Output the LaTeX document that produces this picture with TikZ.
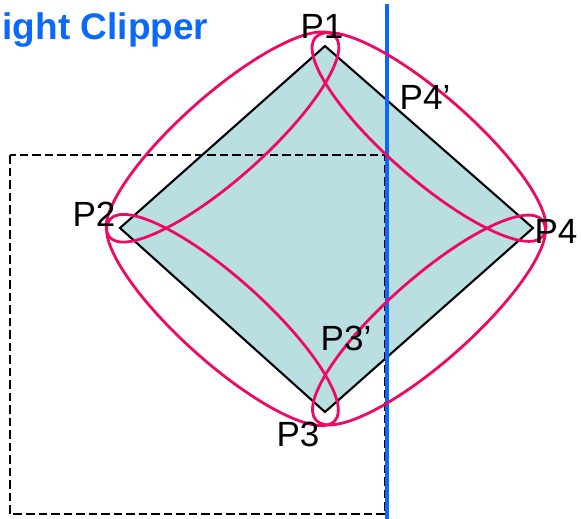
\documentclass[tikz,border=0pt]{standalone}
\usepackage{fontspec}
\setmainfont{Liberation Sans}
\begin{document}
\begin{tikzpicture}[x=1pt,y=1pt,
  lbl/.style={font=\fontsize{35}{35}\selectfont, inner sep=0pt, text=black},
  ttl/.style={font=\fontsize{37}{37}\selectfont\bfseries, inner sep=0pt, text=titleblue},
  leaf/.style={draw=leafpink, line width=2.8pt},
  poly/.style={draw=black, line width=2.1pt, fill=polyfill, line join=miter},
  clipline/.style={draw=titleblue, line width=4.2pt},
  window/.style={draw=black, line width=2.4pt, dash pattern=on 8.5pt off 4pt}
]
\definecolor{titleblue}{RGB}{10,105,250}
\definecolor{leafpink}{RGB}{238,10,100}
\definecolor{polyfill}{RGB}{186,223,227}
\useasboundingbox (0,0) rectangle (581,-519);
% vertices
\coordinate (P1) at (325,-46);
\coordinate (P2) at (120,-228);
\coordinate (P3) at (325,-412);
\coordinate (P4) at (533,-228);
% polygon
\path[poly] (P1) -- (P4) -- (P3) -- (P2) -- cycle;
% clip window
\draw[window] (10,-155) rectangle (385,-514);
% clipping line
\coordinate (ctop) at (387,-4);
\coordinate (cbot) at (387,-519);
\draw[clipline] (ctop) -- (cbot);
% leaves
\draw[leaf, rotate around={41.6:(222.5,-137)}] (222.5,-137) ellipse [x radius=151, y radius=42];
\draw[leaf, rotate around={-41.2:(429,-137)}] (429,-137) ellipse [x radius=151, y radius=42];
\draw[leaf, rotate around={-41.9:(222.5,-320)}] (222.5,-320) ellipse [x radius=151, y radius=42];
\draw[leaf, rotate around={41.5:(429,-320)}] (429,-320) ellipse [x radius=151, y radius=42];
% labels
\node[lbl] (lP1) at (322,-26) {P1};
\node[lbl] (lP4p) at (425,-97) {P4’};
\node[lbl] (lP2) at (94,-214) {P2};
\node[lbl] (lP4) at (556,-231) {P4};
\node[lbl] (lP3p) at (346,-338) {P3’};
\node[lbl] (lP3) at (298,-434) {P3};
\node[ttl, anchor=base west] (title) at (2.5,-40) {ight Clipper};
\end{tikzpicture}
\end{document}
